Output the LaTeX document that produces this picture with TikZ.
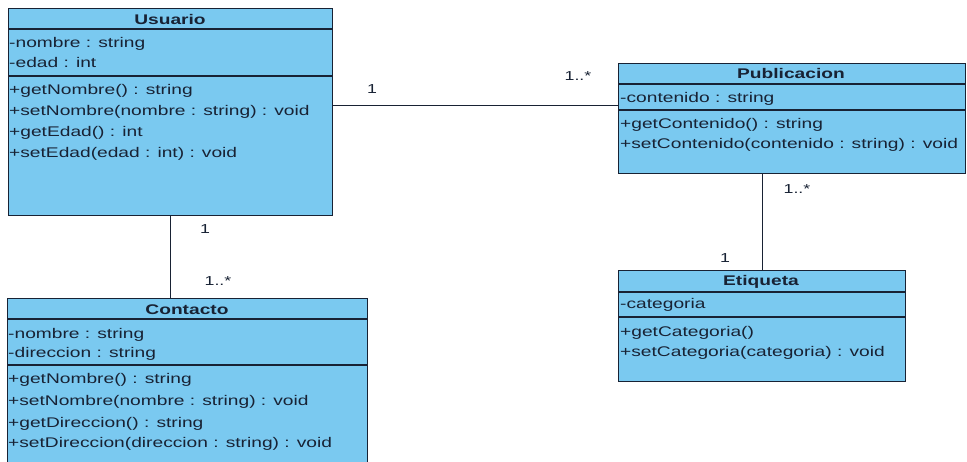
\documentclass[tikz,border=0pt]{standalone}
\usepackage{fontspec}
\setmainfont[FakeStretch=1.37]{Liberation Sans}
\definecolor{classfill}{RGB}{122,201,240}
\definecolor{ink}{RGB}{24,34,52}
\begin{document}
\begin{tikzpicture}[x=1pt,y=-1pt,
  classbox/.style={draw=ink, line width=1.3pt, fill=classfill, inner sep=0pt, anchor=north west},
  member/.style={anchor=base west, inner sep=0pt, font=\fontsize{14}{14}\selectfont, text=ink},
  ctitle/.style={anchor=base, inner sep=0pt, font=\fontsize{14}{14}\selectfont\bfseries, text=ink},
  mult/.style={anchor=base, inner sep=0pt, font=\fontsize{13}{13}\selectfont, text=ink},
  sep/.style={draw=ink, line width=1.1pt},
  assoc/.style={draw=ink, line width=1.2pt}]
\clip (0,0) rectangle (967,461);
\fill[white] (0,0) rectangle (967,461);

% ---- class boxes ----
\node[classbox, minimum width=324pt, minimum height=207pt] (usuario) at (8,8) {};
\node[classbox, minimum width=347pt, minimum height=110pt] (publicacion) at (618,63) {};
\node[classbox, minimum width=360pt, minimum height=190pt] (contacto) at (7,298) {};
\node[classbox, minimum width=287pt, minimum height=111pt] (etiqueta) at (618,270) {};

% ---- compartment separators ----
\draw[sep] ([yshift=-21pt]usuario.north west) -- ([yshift=-21pt]usuario.north east);
\draw[sep] ([yshift=-68pt]usuario.north west) -- ([yshift=-68pt]usuario.north east);
\draw[sep] ([yshift=-21pt]publicacion.north west) -- ([yshift=-21pt]publicacion.north east);
\draw[sep] ([yshift=-47pt]publicacion.north west) -- ([yshift=-47pt]publicacion.north east);
\draw[sep] ([yshift=-21pt]contacto.north west) -- ([yshift=-21pt]contacto.north east);
\draw[sep] ([yshift=-67pt]contacto.north west) -- ([yshift=-67pt]contacto.north east);
\draw[sep] ([yshift=-22pt]etiqueta.north west) -- ([yshift=-22pt]etiqueta.north east);
\draw[sep] ([yshift=-47pt]etiqueta.north west) -- ([yshift=-47pt]etiqueta.north east);

% ---- Usuario ----
\node[ctitle] (usuarioT) at (170,24) {Usuario};
\node[member] (u1) at (9,47) {-nombre : string};
\node[member] (u2) at (9,67) {-edad : int};
\node[member] (u3) at (9,94) {+getNombre() : string};
\node[member] (u4) at (9,115) {+setNombre(nombre : string) : void};
\node[member] (u5) at (9,136) {+getEdad() : int};
\node[member] (u6) at (9,157) {+setEdad(edad : int) : void};

% ---- Publicacion ----
\node[ctitle] (publicacionT) at (791,78) {Publicacion};
\node[member] (p1) at (620,102) {-contenido : string};
\node[member] (p2) at (620,128) {+getContenido() : string};
\node[member] (p3) at (620,148) {+setContenido(contenido : string) : void};

% ---- Contacto ----
\node[ctitle] (contactoT) at (187,314) {Contacto};
\node[member] (c1) at (8,338) {-nombre : string};
\node[member] (c2) at (8,357) {-direccion : string};
\node[member] (c3) at (8,383) {+getNombre() : string};
\node[member] (c4) at (8,405) {+setNombre(nombre : string) : void};
\node[member] (c5) at (8,427) {+getDireccion() : string};
\node[member] (c6) at (8,447) {+setDireccion(direccion : string) : void};

% ---- Etiqueta ----
\node[ctitle] (etiquetaT) at (761,285) {Etiqueta};
\node[member] (e1) at (620,308) {-categoria};
\node[member] (e2) at (620,336) {+getCategoria()};
\node[member] (e3) at (620,356) {+setCategoria(categoria) : void};

% ---- associations ----
\draw[assoc] ([yshift=6.5pt]usuario.east) -- ([yshift=13pt]publicacion.west);
\draw[assoc] (usuario.south) -- (usuario.south |- contacto.north);
\draw[assoc] (etiqueta.north) -- (etiqueta.north |- publicacion.south);

% ---- multiplicities ----
\node[mult] (m1) at (372,93) {1};
\node[mult] (m2) at (578,80) {1..*};
\node[mult] (m3) at (205,233) {1};
\node[mult] (m4) at (218,285) {1..*};
\node[mult] (m5) at (797,193) {1..*};
\node[mult] (m6) at (725,262) {1};
\end{tikzpicture}
\end{document}
